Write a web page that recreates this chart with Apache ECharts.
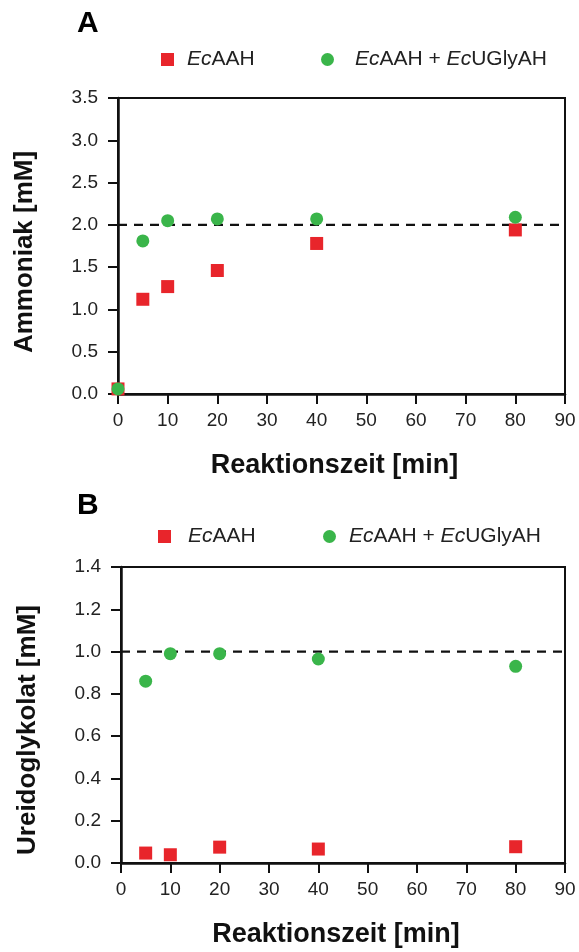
<!DOCTYPE html>
<html>
<head>
<meta charset="utf-8">
<script src="https://cdn.jsdelivr.net/npm/echarts@6/dist/echarts.min.js"></script>
<style>
  html, body { margin: 0; padding: 0; background: #fff; }
  #chart { width: 579px; height: 952px; }
</style>
</head>
<body>
<div id="chart"></div>
<script>
// panel A: Ammoniak
const timesA = [0, 5, 10, 20, 40, 80]
const ammoniakAAH = [0.06, 1.12, 1.27, 1.46, 1.78, 1.94]
const ammoniakBoth = [0.06, 1.81, 2.05, 2.07, 2.07, 2.09]
const refA = [[0, 2.0], [90, 2.0]]

// panel B: Ureidoglykolat
const timesB = [5, 10, 20, 40, 80]
const ureidoAAH = [0.047, 0.039, 0.075, 0.066, 0.077]
const ureidoBoth = [0.86, 0.99, 0.99, 0.965, 0.93]
const refB = [[0, 1.0], [91.4, 1.0]]

const xTicks = [0, 90, 10]
const seriesNames = ['EcAAH', 'EcAAH + EcUGlyAH']

const FONT = 'Liberation Sans, Arial, Helvetica, sans-serif'
const RED = '#e8252b'
const GREEN = '#3ab54a'
const INK = '#111'

const pairs = (xs, ys) => xs.map((x, i) => [x, ys[i]])

function xAxisFor(gridIndex) {
  return {
    gridIndex,
    type: 'value',
    min: xTicks[0],
    max: xTicks[1],
    interval: xTicks[2],
    name: 'Reaktionszeit [min]',
    nameLocation: 'middle',
    nameGap: 58,
    nameTextStyle: { fontFamily: FONT, fontSize: 27, fontWeight: 'bold', color: INK, padding: [0, 14, 0, 0] },
    splitLine: { show: false },
    axisLine: { lineStyle: { color: INK, width: 2.5 } },
    axisTick: { length: 10, lineStyle: { color: INK, width: 2 } },
    axisLabel: { fontFamily: FONT, fontSize: 19, color: '#222', margin: 17 },
  }
}

function yAxisFor(gridIndex, name, max, interval, shift) {
  return {
    gridIndex,
    type: 'value',
    min: 0,
    max,
    interval,
    name,
    nameLocation: 'middle',
    nameGap: 80,
    nameTextStyle: { fontFamily: FONT, fontSize: 26, fontWeight: 'bold', color: INK, padding: [0, shift, 0, 0] },
    splitLine: { show: false },
    axisLine: { lineStyle: { color: INK, width: 2.5 } },
    axisTick: { length: 10, lineStyle: { color: INK, width: 2 } },
    axisLabel: { fontFamily: FONT, fontSize: 19, color: '#222', margin: 20, formatter: v => v.toFixed(1) },
  }
}

function legendAt(name, left, top, pad) {
  return {
    data: [name],
    left,
    top,
    padding: 0,
    itemWidth: 13,
    itemHeight: 13,
    selectedMode: false,
    formatter: n => n.replace(/Ec/g, '{i|Ec}'),
    textStyle: {
      fontFamily: FONT,
      fontSize: 21,
      color: '#222',
      padding: [0, 0, 0, pad],
      rich: { i: { fontFamily: FONT, fontSize: 21, fontStyle: 'italic', color: '#222' } },
    },
  }
}

function dots(name, xAxisIndex, data, symbol, color) {
  return {
    name,
    type: 'scatter',
    xAxisIndex,
    yAxisIndex: xAxisIndex,
    data,
    symbol,
    symbolSize: 13,
    clip: false,
    itemStyle: { color, opacity: 1 },
    z: 3,
  }
}

function refLine(xAxisIndex, data) {
  return {
    type: 'line',
    xAxisIndex,
    yAxisIndex: xAxisIndex,
    data,
    symbol: 'none',
    clip: false,
    silent: true,
    lineStyle: { color: INK, width: 2.2, type: [9, 7] },
    z: 2,
  }
}

const chart = echarts.init(document.getElementById('chart'), null, { renderer: 'canvas' })

chart.setOption({
  animation: false,
  backgroundColor: '#fff',
  title: [
    { text: 'A', left: 77, top: 9, padding: 0, textStyle: { fontFamily: FONT, fontSize: 30, fontWeight: 'bold', color: '#000' } },
    { text: 'B', left: 77, top: 491, padding: 0, textStyle: { fontFamily: FONT, fontSize: 30, fontWeight: 'bold', color: '#000' } },
  ],
  legend: [
    legendAt(seriesNames[0], 161, 49, 8),
    legendAt(seriesNames[1], 321, 49, 16),
    legendAt(seriesNames[0], 158, 526, 12),
    legendAt(seriesNames[1], 323, 526, 8),
  ],
  grid: [
    { left: 118, top: 98, width: 447, height: 296, show: true, borderColor: INK, borderWidth: 2 },
    { left: 121, top: 567, width: 444, height: 296, show: true, borderColor: INK, borderWidth: 2 },
  ],
  xAxis: [xAxisFor(0), xAxisFor(1)],
  yAxis: [
    yAxisFor(0, 'Ammoniak [mM]', 3.5, 0.5, 12),
    yAxisFor(1, 'Ureidoglykolat [mM]', 1.4, 0.2, 30),
  ],
  series: [
    refLine(0, refA),
    refLine(1, refB),
    dots(seriesNames[0], 0, pairs(timesA, ammoniakAAH), 'rect', RED),
    dots(seriesNames[1], 0, pairs(timesA, ammoniakBoth), 'circle', GREEN),
    dots(seriesNames[0], 1, pairs(timesB, ureidoAAH), 'rect', RED),
    dots(seriesNames[1], 1, pairs(timesB, ureidoBoth), 'circle', GREEN),
  ],
})
</script>
</body>
</html>
